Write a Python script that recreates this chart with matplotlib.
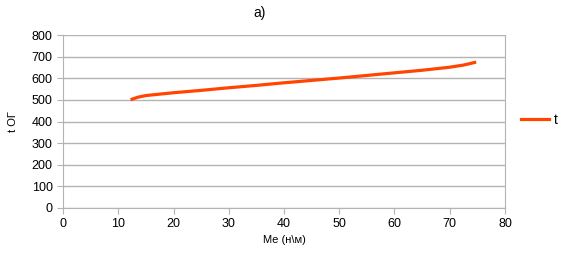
import matplotlib
matplotlib.use("Agg")
from matplotlib import pyplot as plt

me = [12.5, 13.5, 15, 20, 25, 30, 35, 40, 45, 50, 55, 60, 65, 70, 72.5, 74.5]
t = [503, 512, 520, 533, 544, 556, 567, 579, 590, 601, 613, 625, 637, 651, 661, 673]

plt.rcParams['font.family'] = ['Liberation Sans', 'DejaVu Sans']
fig = plt.figure(figsize=(5.63, 2.58), dpi=100)
ax = fig.add_axes([63/563, 1 - 208/258, 442/563, 173/258])

ax.plot(me, t, color="#ff4500", lw=2.3, label="t")
ax.set_xlim(0, 80)
ax.set_ylim(0, 800)
ax.set_xticks(range(0, 81, 10))
ax.set_yticks(range(0, 801, 100))
ax.grid(axis="y", color="#b3b3b3", lw=1)
ax.set_axisbelow(True)
for s in ax.spines.values():
    s.set_color("#b3b3b3")
ax.spines["top"].set_visible(False)
ax.tick_params(colors="#b3b3b3", labelcolor="black", labelsize=9, length=4)

ax.set_xlabel("Me (н\\м)", fontsize=8, labelpad=3)
ax.set_ylabel("t ОГ", fontsize=8, labelpad=10)
fig.text(260/563, 1 - 13/258, "а)", fontsize=10, ha="center", va="center")
fig.legend(loc="center left", bbox_to_anchor=(521/563, 1 - 120/258), frameon=False,
           fontsize=10, handlelength=2.0, handletextpad=0.4,
           borderpad=0, borderaxespad=0)

fig.savefig("out.png", dpi=100)
